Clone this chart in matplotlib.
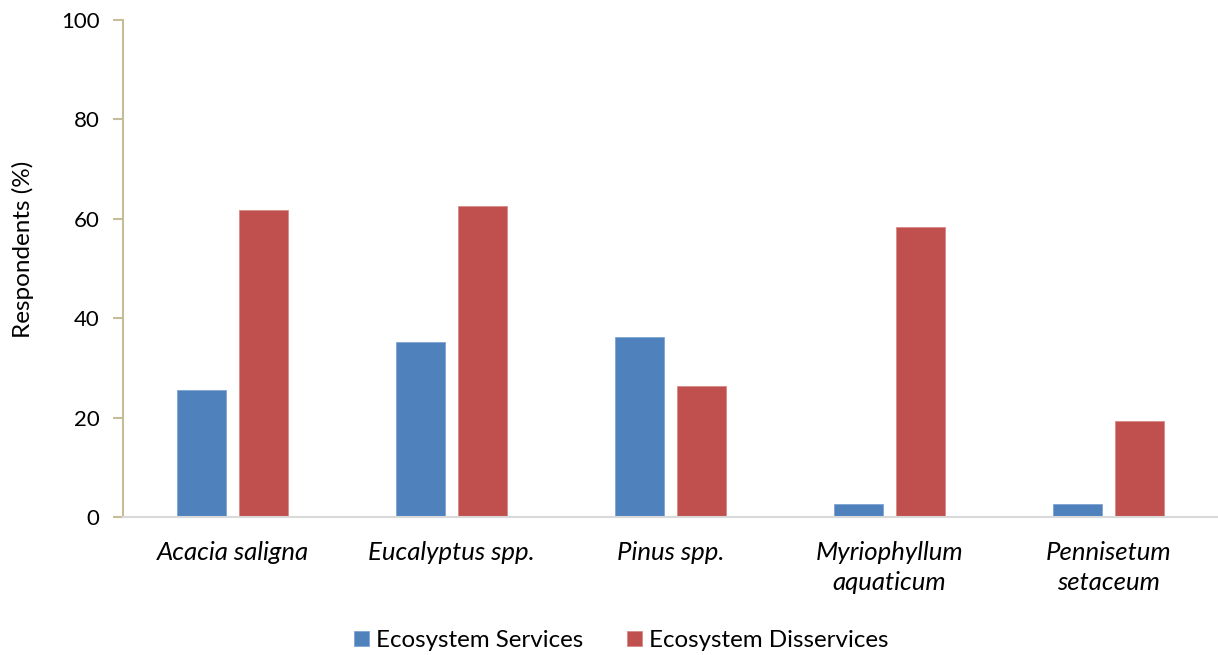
import numpy as np
import matplotlib.pyplot as plt

plt.rcParams['font.family'] = ['Lato', 'DejaVu Sans']

# invasive species and share of respondents naming services / disservices
species = ["Acacia saligna", "Eucalyptus spp.", "Pinus spp.",
           "Myriophyllum\naquaticum", "Pennisetum\nsetaceum"]
services = [25.6, 35.3, 36.2, 2.6, 2.6]
disservices = [61.8, 62.6, 26.4, 58.3, 19.4]

blue = "#4F81BD"
red = "#C0504D"

fig = plt.figure(figsize=(12.18, 6.55), dpi=100)
ax = fig.add_axes([0.101, 0.2107, 0.899, 0.7588])

x = np.arange(len(species))
w = 0.224
ax.bar(x - 0.143, services, w, color=blue, edgecolor="#7FA3D3", linewidth=0.6,
       label="Ecosystem Services")
ax.bar(x + 0.143, disservices, w, color=red, edgecolor="#D88A88", linewidth=0.6,
       label="Ecosystem Disservices")

ax.set_xlim(-0.5, len(species) - 0.5)
ax.set_ylim(0, 100)
ax.set_yticks(range(0, 101, 20))
ax.set_xticks(x)
ax.set_xticklabels(species, fontstyle="italic", fontsize=18.5, va="top",
                   linespacing=1.4)
ax.tick_params(axis="x", length=0, pad=17)
ax.tick_params(axis="y", labelsize=16, length=7, width=1.5, color="#C4BD97",
               pad=10)

fig.text(23 / 1218, 1 - 249 / 655, "Respondents (%)", rotation=90,
         ha="center", va="center", fontsize=17.5)

for s in ["top", "right"]:
    ax.spines[s].set_visible(False)
ax.spines["left"].set_color("#C4BD97")
ax.spines["left"].set_linewidth(1.5)
ax.spines["bottom"].set_color("#D9D9D9")
ax.spines["bottom"].set_linewidth(1.5)

fig.legend(loc="center", bbox_to_anchor=(0.51, 0.022), ncol=2, frameon=False,
           fontsize=17.4, handlelength=0.62, handleheight=0.62, handletextpad=0.29,
           columnspacing=1.8)

fig.savefig("out.png", dpi=100)
